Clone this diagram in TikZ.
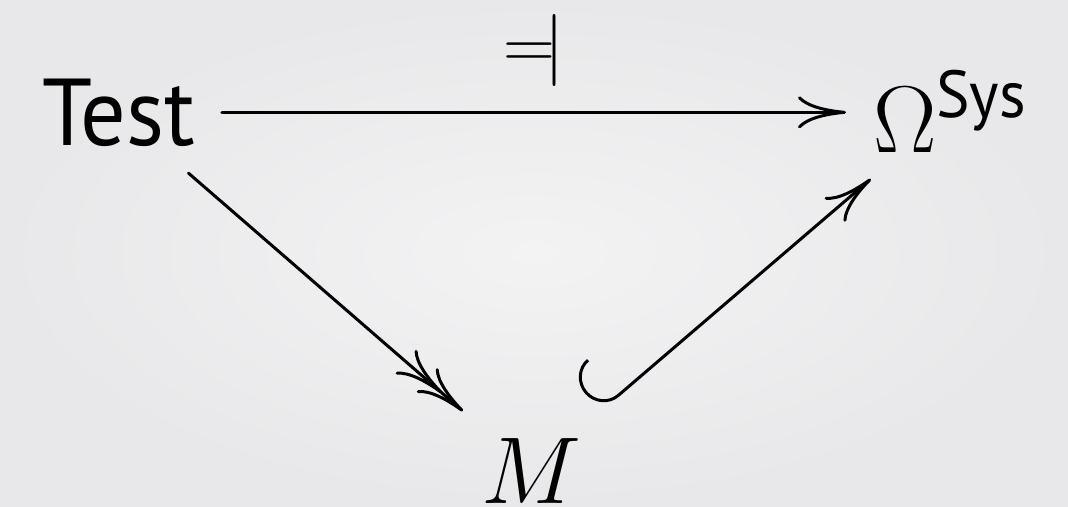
\documentclass[tikz,border=0pt]{standalone}
\usepackage{fix-cm}
\usepackage{amsmath}
\usepackage{fontspec}
\setsansfont{PT Sans}[FakeStretch=0.95]
\usetikzlibrary{arrows.meta}
\definecolor{bgmid}{HTML}{F3F3F4}
\definecolor{bgedge}{HTML}{E8E8EA}
\begin{document}
\begin{tikzpicture}[x=1pt,y=-1pt,line width=3pt,line cap=round,
    every node/.style={inner sep=27pt,outer sep=0pt,font=\fontsize{95}{110}\selectfont},
    cmhead/.style={-{Computer Modern Rightarrow[length=48pt,width=32pt]}},
    twohead/.style={-{Computer Modern Rightarrow[length=48pt,width=32pt,sep=-20pt]Computer Modern Rightarrow[length=48pt,width=32pt]}},
    hookhead/.style={{Hooks[right,length=24pt,width=96pt]}-{Computer Modern Rightarrow[length=48pt,width=32pt]}}]
    \shade[inner color=bgmid,outer color=bgedge] (0,0) rectangle (1068,506);
    \useasboundingbox (0,0) rectangle (1068,506);
    \node[anchor=base west] (test) at (15,145) {\sffamily Test};
    \node[anchor=base west] (omega) at (846,152) {$\Omega^{\text{\sffamily Sys}}$};
    \node[anchor=base west] (m) at (454,503) {$M$};
    \draw[cmhead] (test.east) -- (test.east -| omega.west)
      node[midway,above,inner sep=26pt,font=\fontsize{72}{80}\selectfont] (dashv) {${=}\mkern-2.5mu{|}$};
    \draw[twohead] (test) -- (m);
    \draw[hookhead] (m) -- (omega);
  \end{tikzpicture}
\end{document}
